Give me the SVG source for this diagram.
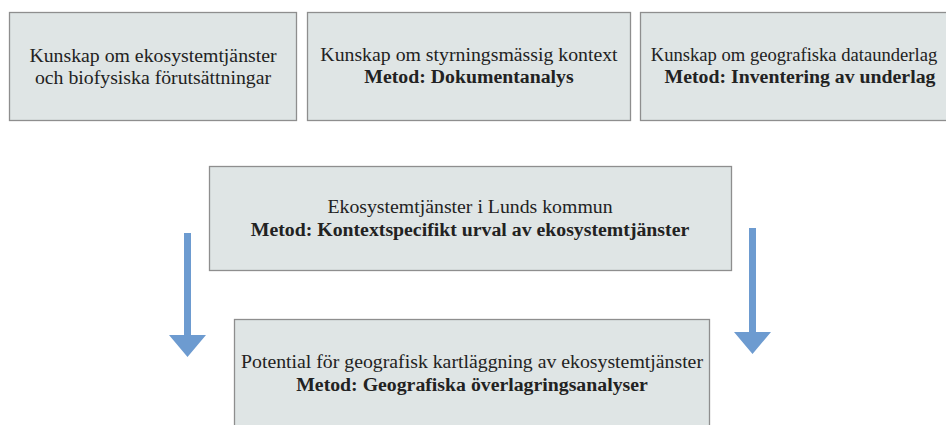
<svg xmlns="http://www.w3.org/2000/svg" width="946" height="425" viewBox="0 0 946 425">
<defs>
<style>
.box{fill:#dfe5e5;stroke:#8e8e8e;stroke-width:1.3}
.t{font-family:"Liberation Serif","Times New Roman",serif;font-size:19.8px;fill:#222;text-anchor:middle}
.b{font-weight:bold}
.arrow{fill:#6d9bd0}
</style>
</defs>
<rect width="946" height="425" fill="#ffffff"/>
<g id="node-ekosystem-kunskap">
<rect class="box" x="9.5" y="12.5" width="287" height="108"/>
<text class="t" x="153" y="62">Kunskap om ekosystemtjänster</text>
<text class="t" x="153" y="84">och biofysiska förutsättningar</text>
</g>
<g id="node-styrning">
<rect class="box" x="307.5" y="12.5" width="323" height="108"/>
<text class="t" x="469" y="61">Kunskap om styrningsmässig kontext</text>
<text class="t b" x="469" y="83">Metod: Dokumentanalys</text>
</g>
<g id="node-geografiska">
<rect class="box" x="640.5" y="12.5" width="320" height="108"/>
<text class="t" x="794" y="61" style="font-size:18.6px">Kunskap om geografiska dataunderlag</text>
<text class="t b" x="800" y="83">Metod: Inventering av underlag</text>
</g>
<g id="node-lunds">
<rect class="box" x="209.5" y="166.5" width="522" height="104"/>
<text class="t" x="470" y="213">Ekosystemtjänster i Lunds kommun</text>
<text class="t b" x="470" y="236">Metod: Kontextspecifikt urval av ekosystemtjänster</text>
</g>
<g id="node-potential">
<rect class="box" x="234.5" y="319.5" width="475" height="120"/>
<text class="t" x="472" y="368">Potential för geografisk kartläggning av ekosystemtjänster</text>
<text class="t b" x="472" y="391">Metod: Geografiska överlagringsanalyser</text>
</g>
<g id="connectors">
<path class="arrow" d="M184,233 H191 V335 H206 L187.5,357 L169,335 H184 Z"/>
<path class="arrow" d="M749,228 H756 V332 H771 L752.5,354 L734,332 H749 Z"/>
</g>
</svg>
